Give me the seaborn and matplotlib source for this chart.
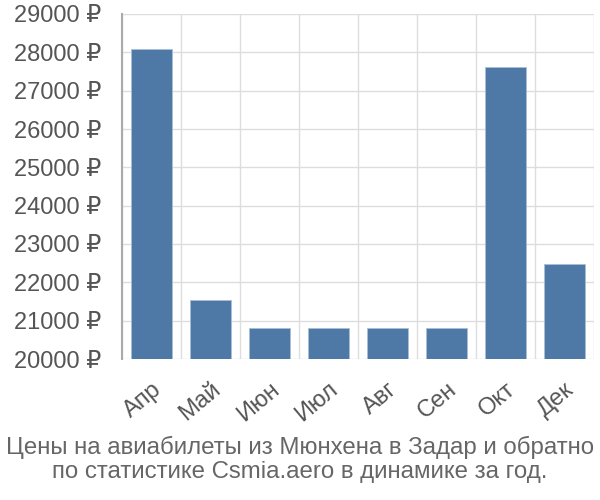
import numpy as np
import pandas as pd
import matplotlib
matplotlib.use("Agg")
import matplotlib.pyplot as plt
import seaborn as sns
from matplotlib.ticker import FixedLocator

# =========================
# DATA
# =========================
months = ["Апр", "Май", "Июн", "Июл", "Авг", "Сен", "Окт", "Дек"]
prices = [28080, 21550, 20800, 20800, 20800, 20800, 27620, 22480]
y_ticks = list(range(20000, 30000, 1000))

df = pd.DataFrame({"month": months, "price": prices})

# =========================
# STYLE
# =========================
sns.set_style("white")
plt.rcParams['font.family'] = ['Liberation Sans', 'DejaVu Sans']

grid_color = "#dddddd"
text_color = "#555555"

fig = plt.figure(figsize=(6, 5), dpi=100)
ax = fig.add_axes([0.203, 0.282, 0.787, 0.69])

sns.barplot(
    data=df,
    x="month",
    y="price",
    color="#4e79a7",
    saturation=1,
    width=0.7,
    edgecolor="#a9bfd6",
    linewidth=0.6,
    zorder=3,
    ax=ax
)

ax.set_ylim(20000, 29000)
ax.set_xlim(-0.5, len(months) - 0.5)

ax.set_yticks(y_ticks)
ax.set_yticklabels([f"{v} ₽" for v in y_ticks], fontsize=17, color=text_color)

ax.set_xticks(range(len(months)))
ax.set_xticklabels(months, rotation=40, ha="right", rotation_mode="anchor",
                   fontsize=17, color=text_color)
ax.xaxis.set_minor_locator(FixedLocator(np.arange(-0.5, len(months), 1.0)))

ax.tick_params(axis="x", which="major", length=0, pad=14)
ax.tick_params(axis="x", which="minor", length=14, color=grid_color, width=1)
ax.tick_params(axis="y", which="major", length=14, color=grid_color, width=1, pad=1)

ax.grid(True, axis="y", which="major", color=grid_color, linewidth=1, zorder=0)
ax.grid(True, axis="x", which="minor", color=grid_color, linewidth=1, zorder=0)
ax.set_axisbelow(True)

for side in ["top", "right", "bottom"]:
    ax.spines[side].set_visible(False)
ax.spines["left"].set_color("#aaaaaa")
ax.spines["left"].set_linewidth(1.5)
ax.spines["left"].set_bounds(20000, 29000)

ax.set_xlabel("")
ax.set_ylabel("")

fig.text(0.5, 0.081, "Цены на авиабилеты из Мюнхена в Задар и обратно\nпо статистике Csmia.aero в динамике за год.",
         ha="center", va="center", fontsize=17.3, color="#666666", linespacing=1.15)

plt.savefig("out.png", dpi=100)
